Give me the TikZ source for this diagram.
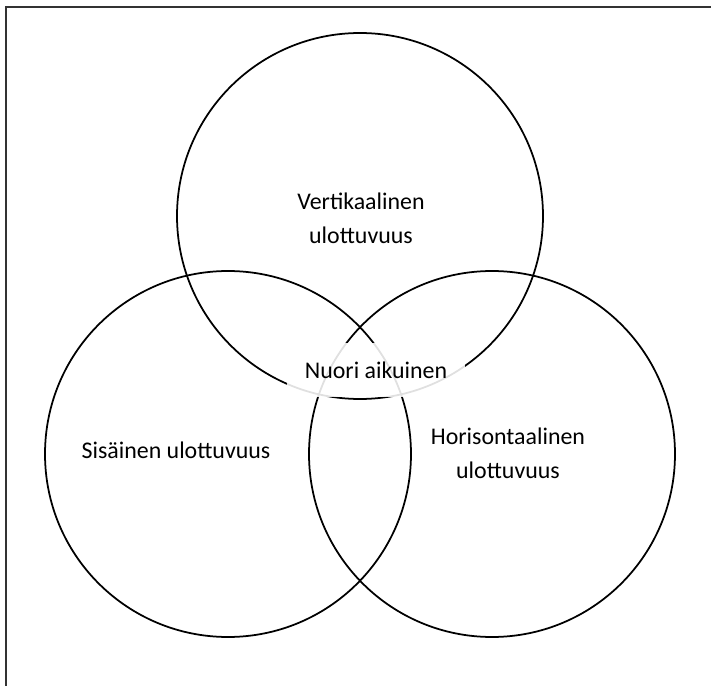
\documentclass[tikz,border=0pt]{standalone}
\usepackage{fontspec}
\setmainfont{Carlito}
\tikzset{
  ring/.style  ={draw,line width=1pt},
  frame/.style ={draw=black!80,line width=1.3pt},
  lbl/.style   ={font=\fontsize{13.6}{19.5}\selectfont,align=center,inner sep=1pt},
  core/.style  ={font=\fontsize{13.6}{19.5}\selectfont,fill=white,fill opacity=0.88,
                 text opacity=1,inner sep=0pt,minimum width=101pt,minimum height=31pt},
}
\begin{document}
\begin{tikzpicture}[x=0.02cm,y=-0.02cm]
  \useasboundingbox (0,0) rectangle (711,686);
  % frame of the screenshot
  \coordinate (fl) at (6,686); \coordinate (fc) at (6,7); \coordinate (fr) at (711,7);
  \draw[frame] (fl) -- (fc) -- (fr);
  % the three dimensions
  \coordinate (v) at (360,216);
  \coordinate (s) at (228,454);
  \coordinate (h) at (492,454);
  \draw[ring] (v) circle (183);
  \draw[ring] (s) circle (183);
  \draw[ring] (h) circle (183);
  \node[lbl] (vt) at (361,218) {Vertikaalinen\\ulottuvuus};
  \node[lbl] (st) at (176,450) {Sisäinen ulottuvuus};
  \node[lbl] (ht) at (508,453) {Horisontaalinen\\ulottuvuus};
  \node[core] (na) at (376,370) {Nuori aikuinen};
\end{tikzpicture}
\end{document}
